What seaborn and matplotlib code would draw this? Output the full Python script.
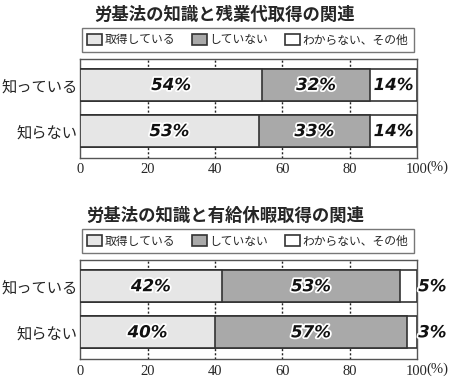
import pandas as pd
import matplotlib.pyplot as plt
import matplotlib.patheffects as pe
import seaborn as sns

sns.set_theme(style='white')
plt.rcParams['font.family'] = ['Noto Sans CJK JP', 'DejaVu Sans']

# Data
groups = ['知っている', '知らない']
answers = ['取得している', 'していない', 'わからない、その他']
titles = ['労基法の知識と残業代取得の関連', '労基法の知識と有給休暇取得の関連']
overtime = {'取得している': [54, 53], 'していない': [32, 33], 'わからない、その他': [14, 14]}
paid_leave = {'取得している': [42, 40], 'していない': [53, 57], 'わからない、その他': [5, 3]}
colors = ['#e6e6e6', '#a9a9a9', '#ffffff']
edge = '#333333'


def draw(ax, values, title, outside_last):
    df = pd.DataFrame(values, index=groups)
    cum = df.cumsum(axis=1)
    # draw cumulative totals, longest first, so each segment shows
    for ans, col in reversed(list(zip(answers, colors))):
        d = pd.DataFrame({'group': groups, 'value': cum[ans].values})
        sns.barplot(data=d, x='value', y='group', orient='h', color=col,
                    edgecolor=edge, linewidth=1.2, width=0.7, saturation=1,
                    ax=ax, zorder=3, label=ans)
    for i, g in enumerate(groups):
        left = 0
        for j, ans in enumerate(answers):
            v = df.loc[g, ans]
            x = left + v / 2
            effects = [pe.withStroke(linewidth=2.5, foreground='white')]
            if j == 2 and outside_last:
                x = 104.5
            ax.text(x, i, f'{v}%', ha='center', va='center', fontsize=12,
                    fontweight='bold', style='italic', family='DejaVu Sans',
                    color='#111111', path_effects=effects, clip_on=False, zorder=5)
            left += v
    ax.set_xlim(0, 100)
    ax.set_ylim(1.58, -0.57)
    ax.set_xticks([0, 20, 40, 60, 80, 100])
    ax.set_xticklabels(['0', '20', '40', '60', '80', '100'],
                       family='Liberation Serif', fontsize=10.5)
    ax.text(1.027, -0.1, '(%)', transform=ax.transAxes, ha='left', va='center',
            family='Liberation Serif', fontsize=10.5)
    ax.tick_params(axis='x', length=0, pad=4)
    ax.tick_params(axis='y', length=0, labelsize=11, pad=2)
    ax.set_yticks([0.5], minor=True)
    ax.tick_params(axis='y', which='minor', direction='in', length=5, color='#555555', width=0.8)
    ax.set_xlabel('')
    ax.set_ylabel('')
    for x in [20, 40, 60, 80]:
        ax.axvline(x, color='#222222', linestyle=(0, (1.5, 1.5)), linewidth=1.0, zorder=1)
    for s in ax.spines.values():
        s.set_color('#555555')
        s.set_linewidth(1.0)
    handles, labels = ax.get_legend_handles_labels()
    order = [labels.index(a) for a in answers]
    leg = ax.legend([handles[k] for k in order], answers, ncol=3, loc='center',
                    bbox_to_anchor=(0.497, 1.19), frameon=True, fancybox=False,
                    fontsize=8.5, handlelength=1.3, handleheight=1.1,
                    handletextpad=0.2, columnspacing=1.4, borderpad=0.45)
    leg.get_frame().set_edgecolor('#555555')
    leg.get_frame().set_linewidth(1.0)
    ax.set_title(title, fontsize=12.5, fontweight='bold', pad=28, x=0.43)


fig = plt.figure(figsize=(4.5, 3.84), dpi=100)
ax1 = fig.add_axes([0.178, 0.589, 0.749, 0.258])
ax2 = fig.add_axes([0.178, 0.065, 0.749, 0.258])
draw(ax1, overtime, titles[0], False)
draw(ax2, paid_leave, titles[1], True)

fig.savefig('out.png', dpi=100)
